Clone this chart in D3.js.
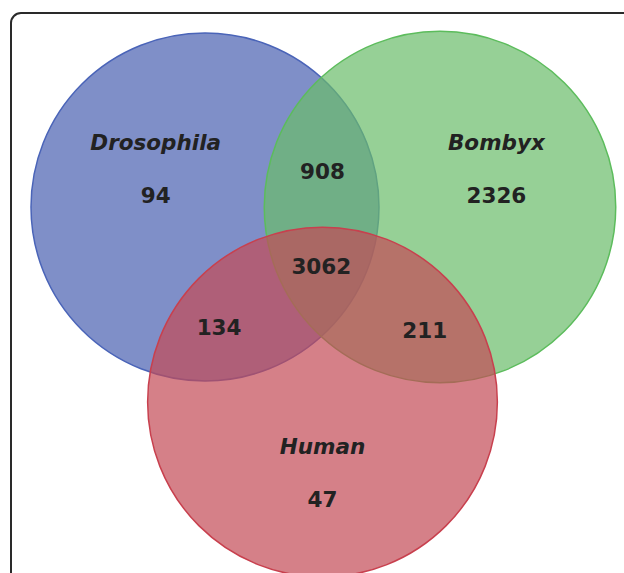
<!DOCTYPE html>
<head>
    <meta charset='utf-8'>
    <style>
        body { margin: 0; background: #fff; }
        #vis { width: 624px; height: 573px; overflow: hidden; }
        text {
            font-family: 'DejaVu Sans', Verdana, sans-serif;
            font-weight: bold;
            font-size: 21.5px;
            fill: #222;
        }
        .set-name { font-style: italic; }
    </style>
</head>
<body>
<div id='vis'></div>
<script src='https://d3js.org/d3.v7.min.js'></script>
<script>
  // data
  const setNames = ['Drosophila', 'Bombyx', 'Human']
  const setColors = ['#485fb0', '#69bc69', '#c34a55']
  const setStrokes = ['#4a64b8', '#5cbc5c', '#c8404e']
  // region -> which sets it belongs to, and its count
  const regionSets = [[0], [1], [2], [0, 1], [0, 2], [1, 2], [0, 1, 2]]
  const regionCounts = [94, 2326, 47, 908, 134, 211, 3062]

  const width = 624, height = 573

  // circle layout in unit coords (radius = 1)
  const cx = d3.scaleLinear().domain([-1, 1]).range([205, 440])
  const cy = d3.scaleLinear().domain([-1, 1]).range([207, 402])
  const rScale = d3.scaleLinear().domain([0, 1]).range([0, 174])

  const centers = [
    {x: -1, y: -1, r: 1},
    {x: 1, y: -1, r: 1.01},
    {x: 0.0, y: 1, r: 1.005}
  ]

  // label positions for each region (unit coords)
  const regionPos = [
    {x: -1.42, y: -1.113},
    {x: 1.48, y: -1.113},
    {x: 0, y: 1.995},
    {x: 0.0, y: -1.359},
    {x: -0.88, y: 0.241},
    {x: 0.87, y: 0.262},
    {x: -0.01, y: -0.385}
  ]

  const svg = d3.select('#vis')
    .append('svg')
    .attr('width', width)
    .attr('height', height)

  // frame
  svg.append('rect')
    .attr('x', 11)
    .attr('y', 13)
    .attr('width', 700)
    .attr('height', 700)
    .attr('rx', 10)
    .attr('fill', 'none')
    .attr('stroke', '#2a2a2a')
    .attr('stroke-width', 2)

  svg.selectAll('.set')
    .data(centers)
    .enter()
    .append('circle')
    .attr('class', 'set')
    .attr('cx', d => cx(d.x))
    .attr('cy', d => cy(d.y))
    .attr('r', d => rScale(d.r))
    .attr('fill', (d, i) => setColors[i])
    .attr('fill-opacity', 0.7)
    .attr('stroke', (d, i) => setStrokes[i])
    .attr('stroke-width', 1.5)

  // set names, above the single-set count
  svg.selectAll('.set-name')
    .data(setNames)
    .enter()
    .append('text')
    .attr('class', 'set-name')
    .attr('text-anchor', 'middle')
    .attr('dominant-baseline', 'central')
    .attr('x', (d, i) => cx(regionPos[i].x))
    .attr('y', (d, i) => cy(regionPos[i].y) - 53)
    .text(d => d)

  svg.selectAll('.count')
    .data(regionCounts)
    .enter()
    .append('text')
    .attr('class', 'count')
    .attr('text-anchor', 'middle')
    .attr('dominant-baseline', 'central')
    .attr('x', (d, i) => cx(regionPos[i].x))
    .attr('y', (d, i) => cy(regionPos[i].y))
    .text(d => d)
</script>
</body>
